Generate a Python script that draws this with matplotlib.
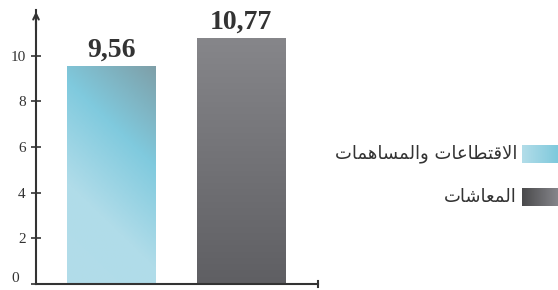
import numpy as np
import matplotlib
matplotlib.use('Agg')
import matplotlib.pyplot as plt
from matplotlib.colors import LinearSegmentedColormap

# data
categories = ['الاقتطاعات والمساهمات', 'المعاشات']
values = [9.56, 10.77]
value_labels = ['9,56', '10,77']
yticks = [0, 2, 4, 6, 8, 10]

# arabic shaping (matplotlib draws glyphs left-to-right without joining)
FORMS = {  # isolated, final, initial, medial
    'ا': ('\uFE8D', '\uFE8E', None, None),
    'و': ('\uFEED', '\uFEEE', None, None),
    'ل': ('\uFEDD', '\uFEDE', '\uFEDF', '\uFEE0'),
    'ق': ('\uFED5', '\uFED6', '\uFED7', '\uFED8'),
    'ت': ('\uFE95', '\uFE96', '\uFE97', '\uFE98'),
    'ط': ('\uFEC1', '\uFEC2', '\uFEC3', '\uFEC4'),
    'ع': ('\uFEC9', '\uFECA', '\uFECB', '\uFECC'),
    'م': ('\uFEE1', '\uFEE2', '\uFEE3', '\uFEE4'),
    'س': ('\uFEB1', '\uFEB2', '\uFEB3', '\uFEB4'),
    'ه': ('\uFEE9', '\uFEEA', '\uFEEB', '\uFEEC'),
    'ش': ('\uFEB5', '\uFEB6', '\uFEB7', '\uFEB8'),
    'لا': ('\uFEFB', '\uFEFC', None, None),
}


def shape(text):
    # split into units, merging lam-alef
    units = []
    i = 0
    while i < len(text):
        if text[i] == 'ل' and i + 1 < len(text) and text[i + 1] == 'ا':
            units.append('لا')
            i += 2
        else:
            units.append(text[i])
            i += 1
    out = []
    for k, u in enumerate(units):
        if u not in FORMS:
            out.append(u)
            continue
        prev = units[k - 1] if k > 0 else None
        nxt = units[k + 1] if k + 1 < len(units) else None
        jp = prev in FORMS and FORMS[prev][2] is not None
        jn = FORMS[u][2] is not None and nxt in FORMS
        f = FORMS[u]
        if jp and jn:
            out.append(f[3])
        elif jp:
            out.append(f[1])
        elif jn:
            out.append(f[2])
        else:
            out.append(f[0])
    return ''.join(out)[::-1]


W, H = 558, 290
fig = plt.figure(figsize=(W / 100, H / 100), dpi=100)
ax = fig.add_axes([36 / W, 6 / H, (318 - 36) / W, (284 - 10) / H])

x = np.arange(len(values))
width = 0.677
bars = ax.bar(x, values, width=width, color='none', edgecolor='none')

cmap1 = LinearSegmentedColormap.from_list('c1', ['#b2dde9', '#b0dce9', '#80cade', '#7e9fa8'])
cmap2 = LinearSegmentedColormap.from_list('c2', ['#5f5f63', '#86868a'])

gy, gx = np.mgrid[0:1:200j, 0:1:60j]
grads = [0.72 * gy + 0.28 * gx, gy]
for bar, g, cm in zip(bars, grads, [cmap1, cmap2]):
    x0, y0 = bar.get_x(), bar.get_y()
    im = ax.imshow(g, cmap=cm, origin='lower', aspect='auto',
                   extent=(x0, x0 + bar.get_width(), y0, y0 + bar.get_height()),
                   zorder=1)
    im.set_clip_path(bar)

for xi, v, lab in zip(x, values, value_labels):
    ax.text(xi, v + 0.15, lab, ha='center', va='bottom', fontsize=20,
            fontweight='bold', family='Liberation Serif', color='#333333')

ax.set_xlim(-0.577, 1.592)
ax.set_ylim(0, 12)
ax.set_yticks(yticks)
# the 0 label sits a little above the axis line, drawn separately below
ax.set_yticklabels(['' if t == 0 else str(t) for t in yticks],
                   family='Liberation Serif', fontsize=11)
ax.annotate('0', xy=(-0.577, 0), xytext=(-12, 4), textcoords='offset points',
            ha='right', va='center', family='Liberation Serif', fontsize=11,
            color='#333333', annotation_clip=False)
ax.set_xticks([])
ax.tick_params(axis='y', direction='inout', length=7, width=1.2, colors='#333333', pad=4)
for s in ['top', 'right']:
    ax.spines[s].set_visible(False)
for s in ['left', 'bottom']:
    ax.spines[s].set_color('#333333')
    ax.spines[s].set_linewidth(1.5)

# axis arrows
ax.annotate('', xy=(-0.577, 12.05), xytext=(-0.577, 11.0),
            arrowprops=dict(arrowstyle='->', color='#333333', lw=1.5,
                            mutation_scale=10), annotation_clip=False)
ax.plot([1.592, 1.592], [-0.14, 0.14], color='#333333', lw=1.5, clip_on=False)

# legend
leg_cmaps = [
    LinearSegmentedColormap.from_list('l1', ['#b2dde9', '#7fc9dc']),
    LinearSegmentedColormap.from_list('l2', ['#4a4a4c', '#85858a']),
]
leg_y = [145, 188]
for cat, cm, yy in zip(categories, leg_cmaps, leg_y):
    sw = fig.add_axes([522 / W, 1 - (yy + 18) / H, 36 / W, 18 / H])
    sw.imshow(np.linspace(0, 1, 50)[None, :], cmap=cm, aspect='auto')
    sw.axis('off')
    fig.text(517 / W, 1 - (yy + 9) / H, shape(cat), ha='right', va='center',
             fontsize=13, family='DejaVu Sans', color='#333333')

fig.savefig('out.png', dpi=100)
